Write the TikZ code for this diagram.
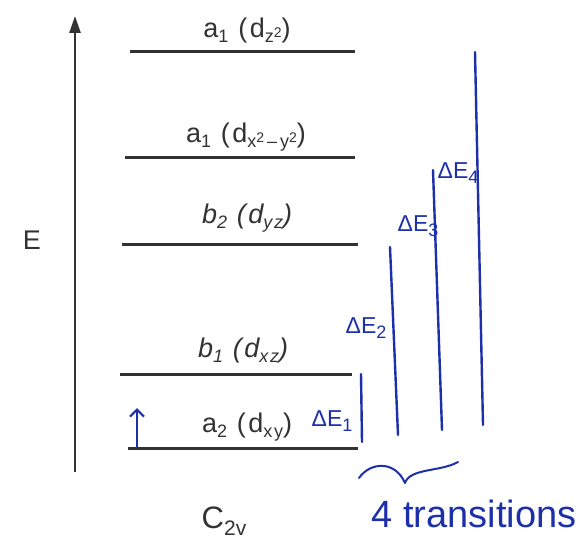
\documentclass[tikz,border=0pt]{standalone}
\usepackage{fontspec}
\setmainfont{Liberation Sans}
\newfontfamily\lblfont[LetterSpace=9]{Liberation Sans}
\usetikzlibrary{arrows.meta}
\definecolor{ink}{RGB}{28,48,170}
\definecolor{lvl}{RGB}{50,50,50}
\newcommand{\lsub}[1]{\raisebox{-0.35ex}{\fontsize{18}{18}\selectfont #1}}
\newcommand{\lsup}[1]{\raisebox{0.55ex}{\fontsize{14}{14}\selectfont #1}}
\newcommand{\hsub}[1]{\raisebox{-0.4ex}{\fontsize{18}{18}\selectfont #1}}
\begin{document}
\begin{tikzpicture}[x=1pt,y=-1pt,
  level/.style={lvl, line width=3pt},
  lab/.style={font=\lblfont\fontsize{27}{30}\selectfont, text=lvl, inner sep=0pt},
  pen/.style={ink, line width=2.4pt, line cap=round, line join=round},
  hand/.style={ink, font=\fontsize{23}{24}\selectfont, inner sep=0pt}]
\useasboundingbox (0,0) rectangle (585,543);

% energy axis
\coordinate (ax0) at (75,472);
\coordinate (ax1) at (75,16);
\draw[lvl, line width=2.6pt, -{Triangle[length=17pt,width=11pt]}] (ax0) -- (ax1);
\node[font=\fontsize{27}{28}\selectfont, text=lvl] (E) at (32,240) {E};

% levels
\coordinate (l5a) at (130,51);  \coordinate (l5b) at (355,51);
\coordinate (l4a) at (125,157); \coordinate (l4b) at (355,157);
\coordinate (l3a) at (122,244); \coordinate (l3b) at (358,244);
\coordinate (l2a) at (120,374); \coordinate (l2b) at (352,374);
\coordinate (l1a) at (128,448); \coordinate (l1b) at (358,448);
\draw[level] (l5a) -- (l5b);
\draw[level] (l4a) -- (l4b);
\draw[level] (l3a) -- (l3b);
\draw[level] (l2a) -- (l2b);
\draw[level] (l1a) -- (l1b);

\node[lab] (t5) at (247,31) {a\lsub{1} (d\lsub{z\lsup{2}})};
\node[lab] (t4) at (246,137) {a\lsub{1} (d\lsub{x\lsup{2}\,\textendash\,y\lsup{2}})};
\node[lab, font=\lblfont\itshape\fontsize{27}{30}\selectfont] (t3) at (247,218) {b\lsub{2} (d\lsub{yz})};
\node[lab, font=\lblfont\itshape\fontsize{27}{30}\selectfont] (t2) at (243,351) {b\lsub{1} (d\lsub{xz})};
\node[lab] (t1) at (247,427) {a\lsub{2} (d\lsub{xy})};

\node[font=\fontsize{31}{32}\selectfont, text=lvl] (C) at (224,521) {C\raisebox{-0.45ex}{\fontsize{21}{21}\selectfont 2v}};

% handwritten additions
\coordinate (ua) at (137,447); \coordinate (ub) at (137,408);
\draw[pen, line width=2.2pt, -{Straight Barb[length=7pt,width=14pt]}] (ua) -- (ub);

\coordinate (d1a) at (361,374); \coordinate (d1b) at (362,442);
\coordinate (d2a) at (390,247); \coordinate (d2b) at (398,435);
\coordinate (d3a) at (433,170); \coordinate (d3b) at (442,430);
\coordinate (d4a) at (475,52);  \coordinate (d4b) at (483,425);
\draw[pen] (d1a) -- (d1b);
\draw[pen] (d2a) -- (d2b);
\draw[pen] (d3a) -- (d3b);
\draw[pen] (d4a) -- (d4b);

\node[hand] (e1) at (332,421) {ΔE\hsub{1}};
\node[hand] (e2) at (366,328) {ΔE\hsub{2}};
\node[hand] (e3) at (418,226) {ΔE\hsub{3}};
\node[hand] (e4) at (458,173) {ΔE\hsub{4}};

% brace
\coordinate (b0) at (359,478);
\coordinate (bm) at (405,483);
\coordinate (b1) at (458,462);
\draw[pen, line width=2pt] (b0) .. controls (370,462) and (395,460) .. (bm)
  .. controls (410,468) and (440,472) .. (b1);

\node[ink, font=\fontsize{38}{40}\selectfont, inner sep=0pt] (tr) at (474,514) {4 transitions};
\end{tikzpicture}
\end{document}
